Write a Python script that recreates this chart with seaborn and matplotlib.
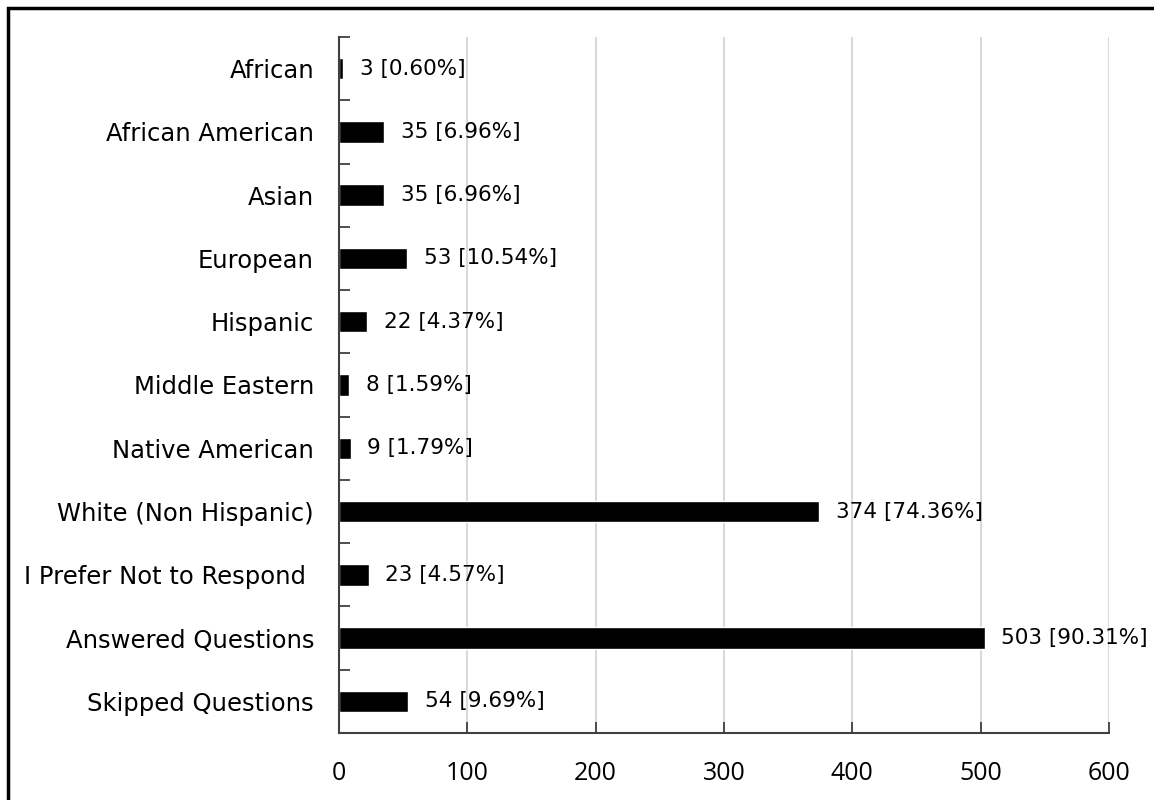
import matplotlib
matplotlib.use("Agg")
import matplotlib.pyplot as plt
import numpy as np
import pandas as pd
import seaborn as sns
from matplotlib.patches import Rectangle

categories = ["African", "African American", "Asian", "European", "Hispanic",
              "Middle Eastern", "Native American", "White (Non Hispanic)",
              "I Prefer Not to Respond ", "Answered Questions", "Skipped Questions"]
counts = [3, 35, 35, 53, 22, 8, 9, 374, 23, 503, 54]
percents = ["0.60%", "6.96%", "6.96%", "10.54%", "4.37%", "1.59%", "1.79%",
            "74.36%", "4.57%", "90.31%", "9.69%"]
xticks = [0, 100, 200, 300, 400, 500, 600]

sns.set_style("white")
plt.rcParams['font.family'] = ['DejaVu Sans']

df = pd.DataFrame({"category": categories, "count": counts})

fig = plt.figure(figsize=(11.54, 8), dpi=100)
ax = fig.add_axes([339/1154, 1 - 733/800, (1109 - 339)/1154, (733 - 37)/800])

sns.barplot(data=df, y="category", x="count", color="black", width=0.34,
            orient="h", ax=ax, saturation=1)

labels = [f"{c} [{p}]" for c, p in zip(counts, percents)]
ax.bar_label(ax.containers[0], labels=labels, padding=12, fontsize=15.5, color="black")

ax.set_xlim(0, 600)
ax.set_ylim(len(categories) - 0.5, -0.5)
ax.set_xticks(xticks)
ax.set_xticklabels([str(t) for t in xticks], family="Open Sans", fontsize=18)
ax.xaxis.grid(True, color="#d9d9d9", linewidth=1.5)
ax.set_axisbelow(True)
ax.set_xlabel("")
ax.set_ylabel("")

for s in ["top", "right"]:
    ax.spines[s].set_visible(False)
for s in ["left", "bottom"]:
    ax.spines[s].set_color("#404040")
    ax.spines[s].set_linewidth(1.5)

ax.tick_params(axis="x", bottom=True, direction="in", length=8, width=1.3, colors="#404040",
               labelcolor="black", pad=20)
ax.tick_params(axis="y", which="major", left=False, length=0, labelsize=17.5, pad=18,
               labelcolor="black")
ax.set_yticks(np.arange(-0.5, len(categories), 1.0), minor=True)
ax.tick_params(axis="y", which="minor", left=True, direction="in", length=8, width=1.3,
               colors="#404040")

fig.patches.append(Rectangle((8/1154, -0.1), 1.2, 1.1 - 8/800, transform=fig.transFigure,
                             fill=False, edgecolor="black", linewidth=2.5))

fig.savefig("out.png", dpi=100)
